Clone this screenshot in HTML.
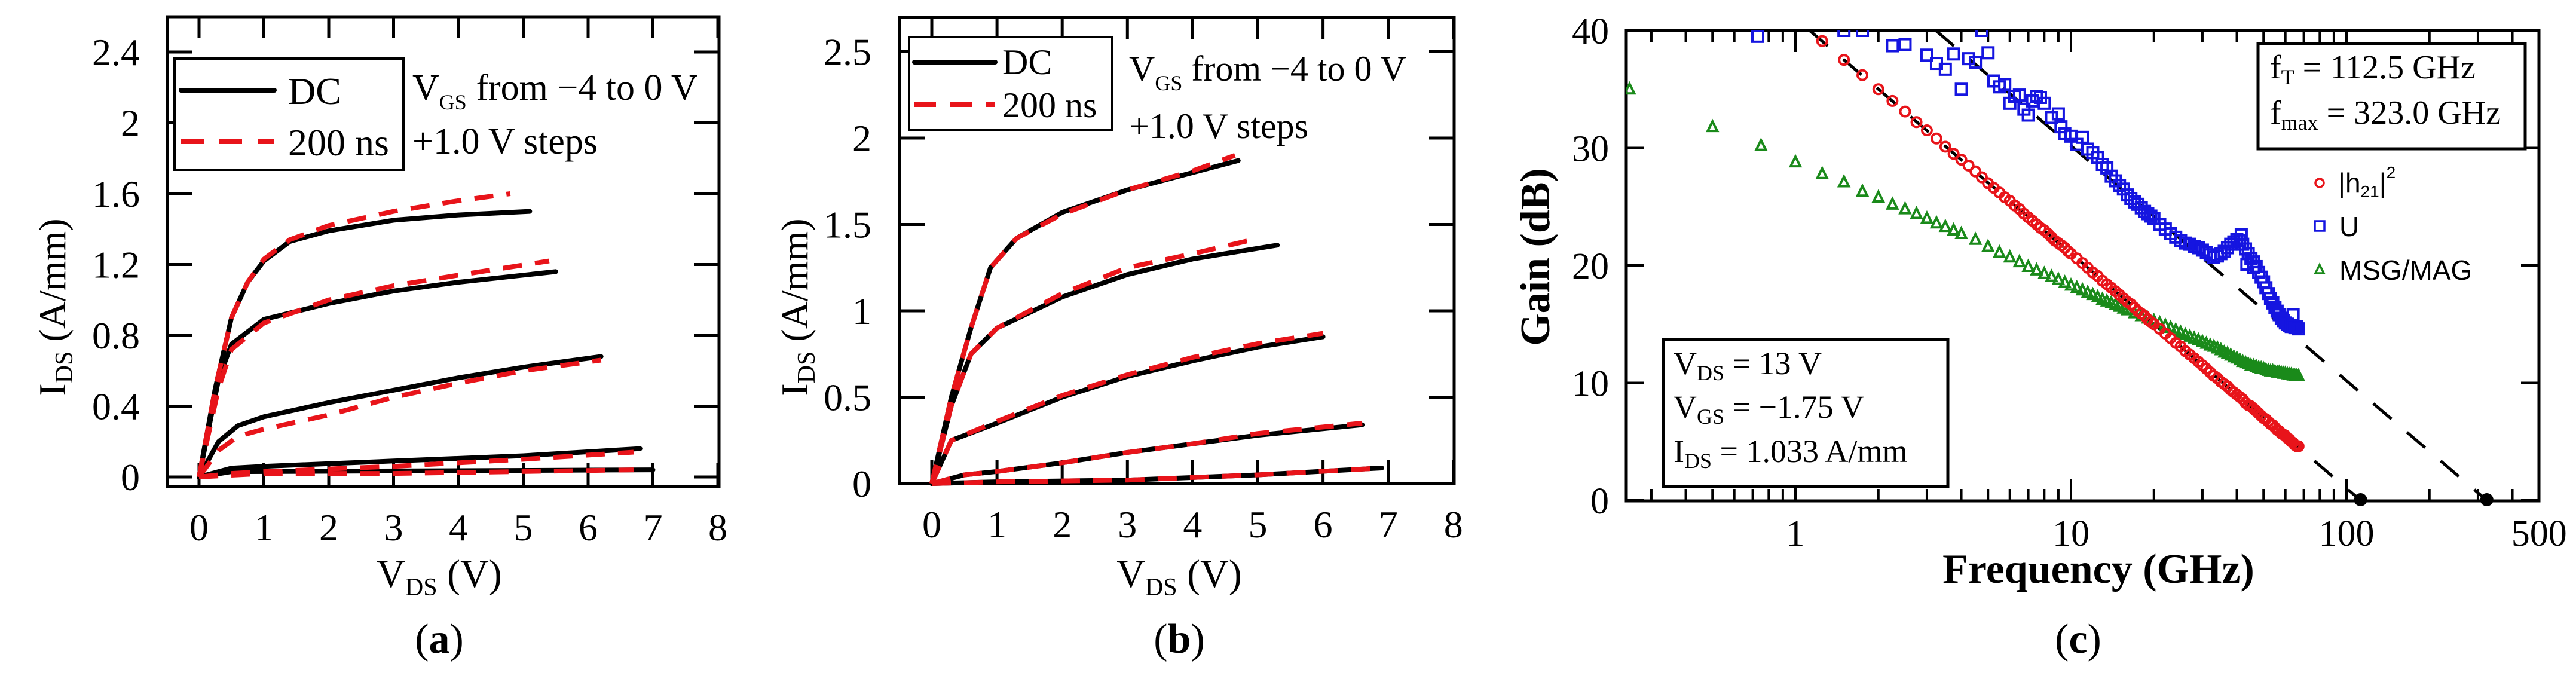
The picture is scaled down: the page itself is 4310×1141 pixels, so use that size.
<!DOCTYPE html>
<html><head><meta charset="utf-8">
<style>
html,body{margin:0;padding:0;background:#fff;}
svg{display:block;}
text{font-family:"Liberation Serif",serif;fill:#000;}
.sans{font-family:"Liberation Sans",sans-serif;}
</style></head>
<body>
<svg id="fig" width="4310" height="1141" viewBox="0 0 4310 1141" xmlns="http://www.w3.org/2000/svg">
<g id="pa"></g>
<g id="pb"></g>
<g id="pc"></g>
</svg>
<script>
// ---------- Panel (a) data: [VDS, IDS] ----------
const aTicksX = [0,1,2,3,4,5,6,7,8];
const aTicksY = [0,0.4,0.8,1.2,1.6,2,2.4];
const aTickLabelsY = ["0","0.4","0.8","1.2","1.6","2","2.4"];
const aDC1 = [[0,0],[0.25,0.5],[0.5,0.9],[0.75,1.1],[1,1.22],[1.4,1.33],[2,1.39],[3,1.45],[4,1.48],[5.1,1.5]];
const aP1  = [[0,0],[0.25,0.5],[0.5,0.9],[0.75,1.1],[1,1.23],[1.4,1.34],[2,1.42],[3,1.5],[4,1.56],[4.8,1.6]];
const aDC2 = [[0,0],[0.3,0.55],[0.5,0.75],[1,0.89],[2,0.98],[3,1.05],[4,1.1],[5,1.14],[5.5,1.16]];
const aP2  = [[0,0],[0.3,0.5],[0.5,0.72],[1,0.87],[2,1.0],[3,1.08],[4,1.14],[5.4,1.22]];
const aDC3 = [[0,0],[0.3,0.2],[0.6,0.29],[1,0.34],[2,0.42],[3,0.49],[4,0.56],[5,0.62],[6.2,0.68]];
const aP3  = [[0,0],[0.3,0.15],[0.6,0.23],[1,0.27],[2,0.35],[3,0.45],[4,0.53],[5,0.6],[6.2,0.66]];
const aDC4 = [[0,0],[0.5,0.05],[1,0.06],[3,0.09],[5,0.12],[6.8,0.16]];
const aP4  = [[0,0],[0.5,0.02],[1,0.03],[3,0.06],[5,0.1],[6.7,0.14]];
const aDC5 = [[0,0],[0.5,0.03],[7,0.04]];
const aP5  = [[0,0],[1,0.02],[3,0.02],[6.7,0.04]];
// ---------- Panel (b) data ----------
const bTicksX = [0,1,2,3,4,5,6,7,8];
const bTicksY = [0,0.5,1,1.5,2,2.5];
const bTickLabelsY = ["0","0.5","1","1.5","2","2.5"];
const bDC1 = [[0,0],[0.3,0.5],[0.6,0.9],[0.9,1.25],[1.3,1.42],[2,1.57],[3,1.7],[4,1.8],[4.7,1.87]];
const bP1  = [[0,0],[0.3,0.5],[0.6,0.9],[0.9,1.25],[1.3,1.42],[2,1.56],[3,1.7],[4,1.81],[4.65,1.9]];
const bDC2 = [[0,0],[0.3,0.45],[0.6,0.75],[1,0.9],[2,1.08],[3,1.21],[4,1.3],[5.3,1.38]];
const bP2  = [[0,0],[0.3,0.45],[0.6,0.75],[1,0.9],[2,1.1],[3,1.25],[4,1.33],[4.9,1.41]];
const bDC3 = [[0,0],[0.3,0.25],[1,0.35],[2,0.5],[3,0.62],[4,0.71],[5,0.79],[6,0.85]];
const bP3  = [[0,0],[0.3,0.25],[1,0.36],[2,0.51],[3,0.63],[4,0.73],[5,0.81],[6,0.87]];
const bDC4 = [[0,0],[0.5,0.05],[1,0.07],[2,0.12],[3,0.18],[4,0.23],[5,0.28],[6.6,0.34]];
const bP4  = [[0,0],[0.5,0.05],[1,0.07],[2,0.12],[3,0.18],[4,0.23],[5,0.29],[6.6,0.35]];
const bDC5 = [[0,0],[1,0.01],[3,0.02],[5,0.05],[6.9,0.09]];
const bP5  = [[0,0],[1,0.01],[3,0.02],[5,0.05],[6.9,0.09]];
// ---------- Panel (c) data ----------
const cTickLabelsX = ["1","10","100","500"];
const cTickValsX = [1,10,100,500];
const cTicksY = [0,10,20,30,40];
const h21F = [1.25,1.5,1.75,2,2.25,2.5,2.75,3,3.25,3.5,3.75,4,4.25,4.5,4.75,5,5.25,5.5,5.75,6,6.25,6.5,6.75,7,7.25,7.5,7.75,8,8.25,8.5,8.75,9,9.25,9.5,9.75,10,10.5,11,11.5,12,12.5,13,13.5,14,14.5,15,15.5,16,16.5,17,17.5,18,18.5,19,19.5,20,21,22,23,24,25,26,27,28,29,30,31,32,33,34,35,36,37,38,39,40,41,42,43,44,45,46,47,48,49,50,51,52,53,54,55,56,57,58,59,60,61,62,63,64,65,66,67];
const h21G = [39.1,37.5,36.2,35.0,34.0,33.1,32.2,31.5,30.8,30.1,29.5,29.0,28.5,28.0,27.5,27.0,26.6,26.2,25.8,25.5,25.1,24.8,24.4,24.1,23.8,23.5,23.2,23.0,22.7,22.4,22.1,21.9,21.7,21.5,21.2,21.0,20.6,20.2,19.8,19.4,19.1,18.7,18.4,18.1,17.8,17.5,17.2,16.9,16.7,16.4,16.1,15.9,15.7,15.4,15.2,15.0,14.6,14.2,13.8,13.4,13.1,12.7,12.4,12.1,11.8,11.5,11.2,10.9,10.6,10.4,10.1,9.9,9.7,9.4,9.2,9.0,8.8,8.6,8.3,8.1,8.0,7.8,7.6,7.4,7.2,7.0,6.9,6.7,6.5,6.4,6.2,6.0,5.9,5.7,5.6,5.5,5.3,5.2,5.0,4.9,4.7,4.6,4.6];
const uF = [0.73,1.5,1.75,2.25,2.5,3,3.25,3.5,3.75,4,4.25,4.5,4.75,5,5.25,5.5,5.75,6,6.25,6.5,6.75,7,7.25,7.5,7.75,8,8.5,9,9.2,9.5,10,10.5,11,11.5,12,13,14,15,16,17,18,19,20,21,22,23,24,25,26,27,28,29,30,31,32,33,34,35,36,37,38,39,40,41,42,43,44,45,46,47,48,49,50,51,52,53,54,55,56,57,58,59,60,61,62,63,64,65,66,67,12.5,13.5,14.5,15.5,16.5,17.5,18.5,19.5,41.5,43.5,46,64];
const uG = [39.5,40,40,38.7,38.8,37.9,37.2,36.7,38,35,37.6,37.3,40,38.1,35.7,35.2,35.4,33.8,34.4,34.5,33.3,32.8,34,34.4,34.3,33.8,32.6,32.9,31.8,31.2,31,30.3,30.9,29.9,29.6,28.6,27.6,26.8,26,25.4,24.9,24.4,24,23.5,23.1,22.7,22.4,22.1,21.9,21.8,21.6,21.5,21.3,21.1,20.9,20.7,20.8,21,21.2,21.5,21.8,22,22.2,22.1,21.8,21.4,21,20.6,20.3,19.9,19.4,19,18.6,18.1,17.6,17.2,16.8,16.4,16.1,15.8,15.5,15.3,15.1,15,14.9,14.8,14.8,14.7,14.8,14.6,29.2,28.3,27.2,26.5,25.7,25.2,24.6,24.2,22.6,20.1,19.8,15.8];
const msgF = [0.25,0.5,0.75,1,1.25,1.5,1.75,2,2.25,2.5,2.75,3,3.25,3.5,3.75,4,4.5,5,5.5,6,6.5,7,7.5,8,8.5,9,9.5,10,10.5,11,11.5,12,12.5,13,13.5,14,14.5,15,15.5,16,17,18,19,20,21,22,23,24,25,26,27,28,29,30,31,32,33,34,35,36,37,38,39,40,41,42,43,44,45,46,47,48,49,50,51,52,53,54,55,56,57,58,59,60,61,62,63,64,65,66,67];
const msgG = [35,31.8,30.2,28.8,27.8,27.1,26.3,25.8,25.2,24.8,24.4,24,23.6,23.3,23.0,22.7,22.2,21.6,21.1,20.7,20.3,19.9,19.6,19.3,19.05,18.8,18.55,18.3,18.1,17.9,17.7,17.5,17.3,17.1,16.95,16.8,16.65,16.5,16.35,16.2,15.95,15.7,15.5,15.3,15.1,14.9,14.7,14.5,14.3,14.1,13.95,13.8,13.65,13.5,13.35,13.2,13.1,12.95,12.8,12.6,12.5,12.35,12.2,12.1,11.95,11.8,11.7,11.6,11.5,11.45,11.4,11.3,11.25,11.2,11.1,11.05,11.0,11.0,10.95,10.9,10.9,10.85,10.8,10.8,10.75,10.7,10.7,10.65,10.6,10.6,10.6];
const fT = 112.5;
const fMax = 323.0;

const NS = "http://www.w3.org/2000/svg";
function mk(parent, tag, attrs){const e=document.createElementNS(NS,tag);for(const k in attrs)e.setAttribute(k,attrs[k]);parent.appendChild(e);return e;}

function ivPanel(g, o){
  const X=v=>o.x0+v*o.sx, Y=i=>o.y0-i*o.sy;
  const fr = mk(g,'rect',{x:o.L,y:o.T,width:o.R-o.L,height:o.B-o.T,fill:'none',stroke:'#000','stroke-width':5});
  
  
  o.tx.forEach(v=>{
    const x=X(v);
    const t1=mk(g,'line',{x1:x,y1:o.T,x2:x,y2:o.T+36,stroke:'#000','stroke-width':5});
    
    
    const t2=mk(g,'line',{x1:x,y1:o.B,x2:x,y2:o.B-40,stroke:'#000','stroke-width':5});
    
    
    const lb=mk(g,'text',{x:x,y:o.B+90,'font-size':64,'text-anchor':'middle'});lb.textContent=String(v);
    
    
  });
  o.ty.forEach((v,k)=>{
    const y=Y(v);
    const t1=mk(g,'line',{x1:o.L,y1:y,x2:o.L+42,y2:y,stroke:'#000','stroke-width':5});
    
    
    const t2=mk(g,'line',{x1:o.R,y1:y,x2:o.R-42,y2:y,stroke:'#000','stroke-width':5});
    
    
    const lb=mk(g,'text',{x:o.ylx,y:y+22,'font-size':64,'text-anchor':'end'});lb.textContent=o.tyl[k];
    
    
  });
  const pts=a=>a.map(p=>X(p[0]).toFixed(1)+','+Y(p[1]).toFixed(1)).join(' ');
  o.dc.forEach(s=>{
    const l=mk(g,'polyline',{points:pts(s),fill:'none',stroke:'#000','stroke-width':8,'stroke-linejoin':'round','stroke-linecap':'round'});
    
    
  });
  o.pu.forEach(s=>{
    const l=mk(g,'polyline',{points:pts(s),fill:'none',stroke:'#e8141a','stroke-width':8,'stroke-dasharray':'32 22','stroke-linejoin':'round'});
    
    
  });
}
ivPanel(document.getElementById('pa'),{L:280,R:1203,T:28,B:814,x0:333,sx:108.5,y0:798,sy:296.25,tx:aTicksX,ty:aTicksY,tyl:aTickLabelsY,ylx:234,
  dc:[aDC1,aDC2,aDC3,aDC4,aDC5],pu:[aP1,aP2,aP3,aP4,aP5]});
ivPanel(document.getElementById('pb'),{L:1505,R:2433,T:29,B:809,x0:1559,sx:109.1,y0:809,sy:289,tx:bTicksX,ty:bTicksY,tyl:bTickLabelsY,ylx:1458,
  dc:[bDC1,bDC2,bDC3,bDC4,bDC5],pu:[bP1,bP2,bP3,bP4,bP5]});

// ---------- Panel (c) ----------
(function(){
  const g=document.getElementById('pc');
  const L=2721,R=4248,T=51,B=838;
  const X=f=>3004+Math.log10(f)*461, Y=v=>837-v*19.65;
  const fr=mk(g,'rect',{x:L,y:T,width:R-L,height:B-T,fill:'none',stroke:'#000','stroke-width':5});
  
  
  for(let d=-1;d<=2;d++){for(let m=1;m<=9;m++){const f=m*Math.pow(10,d);if(f<0.243||f>500)continue;const x=X(f);const len=(m===1)?36:20;
    const a=mk(g,'line',{x1:x,y1:B,x2:x,y2:B-len,stroke:'#000','stroke-width':4});
    
    
    const b=mk(g,'line',{x1:x,y1:T,x2:x,y2:T+len,stroke:'#000','stroke-width':4});
    
    }}
  cTickValsX.forEach((f,k)=>{const lb=mk(g,'text',{x:X(f),y:913,'font-size':62,'text-anchor':'middle'});lb.textContent=cTickLabelsX[k];
    
    });
  cTicksY.forEach(v=>{const y=Y(v);
    const a=mk(g,'line',{x1:L,y1:y,x2:L+30,y2:y,stroke:'#000','stroke-width':4});
    
    
    const b=mk(g,'line',{x1:R,y1:y,x2:R-30,y2:y,stroke:'#000','stroke-width':4});
    
    
    const lb=mk(g,'text',{x:2692,y:y+22,'font-size':62,'text-anchor':'end'});lb.textContent=String(v);
    
    });
  const clip=mk(g,'clipPath',{id:'cclip'});mk(clip,'rect',{x:L,y:T,width:R-L,height:B-T});
  const pg=mk(g,'g',{'clip-path':'url(#cclip)'});
  [[fT,'ft-fit-line'],[fMax,'fmax-fit-line']].forEach(p=>{
    const f0=p[0]/100, f1=p[0];
    const l=mk(pg,'line',{x1:X(f0),y1:Y(40),x2:X(f1),y2:Y(0),stroke:'#000','stroke-width':5,'stroke-dasharray':'40 34'});
    
    
    const d=mk(g,'circle',{cx:X(f1),cy:B-2,r:11,fill:'#000'});
    
    
  });
  msgF.forEach((f,k)=>{const x=X(f),y=Y(msgG[k]);
    const t=mk(pg,'polygon',{points:`${x},${y-9} ${x-8},${y+7} ${x+8},${y+7}`,fill:'none',stroke:'#1a8a1a','stroke-width':4});
    
    });
  h21F.forEach((f,k)=>{
    const c=mk(pg,'circle',{cx:X(f),cy:Y(h21G[k]),r:8,fill:'none',stroke:'#e8141a','stroke-width':4});
    
    });
  uF.forEach((f,k)=>{
    const s=mk(pg,'rect',{x:X(f)-9,y:Y(uG[k])-9,width:18,height:18,fill:'none',stroke:'#1515e0','stroke-width':4});
    
    });
})();
</script>

<svg width="4310" height="1141" viewBox="0 0 4310 1141" style="position:absolute;left:0;top:0" xmlns="http://www.w3.org/2000/svg">
<!-- panel a -->
<text x="87" y="514" font-size="64" text-anchor="middle" transform="rotate(-90 87 514)" dy="22">I<tspan font-size="42" dy="12">DS</tspan><tspan dy="-12"> (A/mm)</tspan></text>
<text x="735" y="982" font-size="66" text-anchor="middle">V<tspan font-size="42" dy="14">DS</tspan><tspan dy="-14"> (V)</tspan></text>
<text x="735" y="1092" font-size="70" text-anchor="middle">(<tspan font-weight="bold">a</tspan>)</text>
<g>
<rect x="292" y="98" width="383" height="186" fill="#fff" stroke="#000" stroke-width="4"/>
<line x1="303" y1="151" x2="459" y2="151" stroke="#000" stroke-width="8" stroke-linecap="round"/>
<text x="482" y="174" font-size="64">DC</text>
<line x1="303" y1="237" x2="459" y2="237" stroke="#e8141a" stroke-width="8" stroke-dasharray="38 26"/>
<text x="482" y="260" font-size="64">200 ns</text>
</g>
<text x="690" y="167" font-size="62">V<tspan font-size="36" dy="16">GS</tspan><tspan dy="-16"> from −4 to 0 V</tspan></text>
<text x="690" y="257" font-size="62">+1.0 V steps</text>
<!-- panel b -->
<text x="1329" y="514" font-size="64" text-anchor="middle" transform="rotate(-90 1329 514)" dy="22">I<tspan font-size="42" dy="12">DS</tspan><tspan dy="-12"> (A/mm)</tspan></text>
<text x="1973" y="982" font-size="66" text-anchor="middle">V<tspan font-size="42" dy="14">DS</tspan><tspan dy="-14"> (V)</tspan></text>
<text x="1973" y="1092" font-size="70" text-anchor="middle">(<tspan font-weight="bold">b</tspan>)</text>
<g>
<rect x="1521" y="62" width="340" height="155" fill="#fff" stroke="#000" stroke-width="4"/>
<line x1="1530" y1="104" x2="1665" y2="104" stroke="#000" stroke-width="8" stroke-linecap="round"/>
<text x="1677" y="124" font-size="60">DC</text>
<line x1="1530" y1="175" x2="1665" y2="175" stroke="#e8141a" stroke-width="8" stroke-dasharray="36 24"/>
<text x="1677" y="196" font-size="60">200 ns</text>
</g>
<text x="1889" y="135" font-size="60">V<tspan font-size="36" dy="16">GS</tspan><tspan dy="-16"> from −4 to 0 V</tspan></text>
<text x="1889" y="231" font-size="60">+1.0 V steps</text>
<!-- panel c -->
<text x="2568" y="430" font-size="70" font-weight="bold" text-anchor="middle" transform="rotate(-90 2568 430)" dy="24">Gain (dB)</text>
<text x="3511" y="975" font-size="70" font-weight="bold" text-anchor="middle">Frequency (GHz)</text>
<text x="3477" y="1092" font-size="70" text-anchor="middle">(<tspan font-weight="bold">c</tspan>)</text>
<g>
<rect x="3778" y="73" width="447" height="176" fill="#fff" stroke="#000" stroke-width="5"/>
<text x="3798" y="131" font-size="56">f<tspan font-size="36" dy="10">T</tspan><tspan dy="-10">  = 112.5 GHz</tspan></text>
<text x="3798" y="207" font-size="56">f<tspan font-size="36" dy="10">max</tspan><tspan dy="-10"> = 323.0 GHz</tspan></text>
</g>
<g>
<circle cx="3881" cy="306" r="7" fill="none" stroke="#e8141a" stroke-width="3.5"/>
<text class="sans" x="3912" y="322" font-size="46">|h<tspan font-size="28" dy="8">21</tspan><tspan dy="-8">|</tspan><tspan font-size="28" dy="-24">2</tspan></text>
<rect x="3873" y="370" width="16" height="16" fill="none" stroke="#1515e0" stroke-width="3.5"/>
<text class="sans" x="3914" y="395" font-size="46">U</text>
<polygon points="3881,443 3874,457 3888,457" fill="none" stroke="#1a8a1a" stroke-width="3.5"/>
<text class="sans" x="3914" y="468" font-size="46">MSG/MAG</text>
</g>
<g>
<rect x="2783" y="568" width="476" height="246" fill="#fff" stroke="#000" stroke-width="5"/>
<text x="2800" y="626" font-size="54">V<tspan font-size="36" dy="10">DS</tspan><tspan dy="-10"> = 13 V</tspan></text>
<text x="2800" y="699" font-size="54">V<tspan font-size="36" dy="10">GS</tspan><tspan dy="-10"> = −1.75 V</tspan></text>
<text x="2800" y="773" font-size="54">I<tspan font-size="36" dy="10">DS</tspan><tspan dy="-10"> = 1.033 A/mm</tspan></text>
</g>
</svg>
</body></html>
